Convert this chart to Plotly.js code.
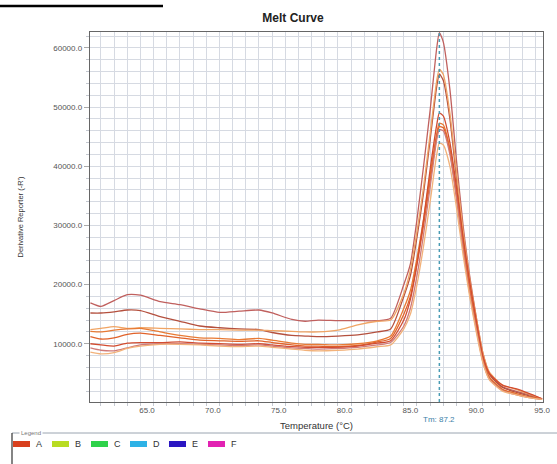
<!DOCTYPE html>
<html>
<head>
<meta charset="utf-8">
<script src="https://cdn.plot.ly/plotly-3.0.1.min.js"></script>
<style>html,body{margin:0;padding:0;background:#fff;}#chart{width:557px;height:464px;}</style>
</head>
<body>
<div id="chart"></div>
<script>
// ---- data ----
const temps = [60.7, 61.5, 62.5, 63.5, 64.5, 66, 67.5, 69, 70.5, 72, 73.5, 74.5, 76, 77, 78, 79.5, 81, 82.5, 83.5, 84.5,
  85.0, 85.5, 86.0, 86.5, 87.0, 87.2, 87.5, 88.0, 88.5, 89.0, 89.5, 90.0, 90.5, 91.0, 92.0, 93.0, 94.0, 95.0];

const well1 = [16900, 16300, 17300, 18300, 18200, 17100, 16600, 15900, 15300, 15500, 15700, 15200, 14100, 13800, 14000, 13900, 13900, 13900, 14300, 20000,
  23500, 31000, 40000, 49500, 60000, 62600, 61000, 53000, 41000, 30000, 21500, 14500, 8500, 5000, 2700, 2000, 1400, 700];
const well2 = [15200, 15200, 15400, 15700, 15600, 14600, 13800, 13000, 12700, 12500, 12400, 11900, 11400, 11300, 11200, 11300, 11500, 12000, 12500, 18000,
  21500, 28000, 35500, 44500, 53500, 55600, 54500, 48000, 38000, 28000, 20500, 14000, 8000, 4800, 2600, 1800, 1200, 600];
const well3 = [12400, 12600, 12900, 12600, 12700, 12600, 12500, 12400, 12400, 12300, 12300, 12200, 12100, 12000, 12000, 12300, 13200, 13800, 14000, 18500,
  22500, 29000, 36500, 45500, 54500, 56400, 55500, 49000, 39000, 29000, 21000, 14500, 8500, 5200, 3000, 2300, 1500, 700];
const well4 = [12100, 12000, 12300, 12500, 12600, 12000, 11400, 11000, 10900, 10700, 10900, 10600, 10100, 9900, 9900, 9800, 10000, 10500, 11300, 16000,
  19000, 24500, 31000, 38500, 45500, 47300, 47000, 43000, 35500, 27000, 19500, 13500, 7500, 4400, 2300, 1600, 1000, 600];
const well5 = [11200, 10800, 11000, 11600, 11800, 11400, 11000, 10600, 10500, 10400, 10500, 10200, 9800, 9600, 9600, 9500, 9700, 10300, 10900, 15000,
  18000, 23500, 30000, 37500, 45000, 46700, 46500, 42500, 35000, 26500, 19000, 13000, 7200, 4200, 2200, 1500, 1000, 600];
const well6 = [10000, 9800, 9600, 10100, 10200, 10200, 10300, 10100, 10000, 9900, 10000, 9800, 9500, 9400, 9400, 9400, 9600, 10100, 10500, 14000,
  17500, 23500, 31000, 39500, 47000, 49000, 48500, 44000, 36500, 28000, 20500, 14000, 8000, 5000, 3000, 2400, 1600, 700];
const well7 = [9300, 8900, 8800, 9300, 9800, 10000, 10000, 9900, 9800, 9700, 9800, 9600, 9300, 9200, 9100, 9200, 9400, 9800, 10200, 13000,
  16000, 21500, 28500, 36500, 44500, 46200, 46000, 42000, 34500, 26000, 18500, 12500, 7000, 4000, 2100, 1400, 900, 600];
const well8 = [8600, 8300, 8500, 9200, 9600, 9900, 9900, 9800, 9600, 9500, 9600, 9400, 9100, 8900, 8800, 8900, 9100, 9500, 9800, 12500,
  15000, 20000, 26500, 34000, 42000, 43900, 43600, 40000, 33000, 25000, 18000, 12000, 6800, 3900, 2000, 1400, 900, 600];

const wells = [well1, well2, well3, well4, well5, well6, well7, well8];
const wellColors = ['#c0605e', '#b4503e', '#f0a464', '#e87a34', '#e0622a', '#d24c30', '#d07a78', '#f2b27a'];

const tmValue = 87.2;
const legendLabels = ['A', 'B', 'C', 'D', 'E', 'F'];
const legendColors = ['#d8401e', '#b8dc22', '#2ed24a', '#2eb2e6', '#2a16c2', '#e222b2'];

// ---- layout helpers ----
const W = 557, H = 464, L = 90, R = 14, T = 32, B = 62;
const pw = W - L - R, ph = H - T - B;
const px = x => (x - L) / pw;
const py = y => (H - B - y) / ph;

const FONT = 'Liberation Sans, Arial, sans-serif';
const GRID = '#d6dae2';

const traces = wells.map((w, i) => ({
  type: 'scatter', mode: 'lines', x: temps, y: w,
  line: {color: wellColors[i], width: 1.3, shape: 'spline', smoothing: 0.6},
  showlegend: false, hoverinfo: 'skip'
}));

const shapes = [
  // Tm marker line
  {type: 'line', xref: 'x', yref: 'paper', x0: tmValue, x1: tmValue, y0: 0, y1: 1,
   line: {color: '#4a9cb4', width: 1.5, dash: 'dot'}},
  // top-left rule from the page
  {type: 'line', xref: 'paper', yref: 'paper', x0: px(0), x1: px(163), y0: py(6), y1: py(6),
   line: {color: '#000', width: 2.5}},
  // legend frame
  {type: 'line', xref: 'paper', yref: 'paper', x0: px(12), x1: px(557), y0: py(433), y1: py(433),
   line: {color: '#9aa4b0', width: 1}},
  {type: 'line', xref: 'paper', yref: 'paper', x0: px(12), x1: px(12), y0: py(433), y1: py(464),
   line: {color: '#333', width: 1.2}}
];

const annotations = [
  {xref: 'x', yref: 'paper', x: tmValue, y: py(419), text: 'Tm: ' + tmValue.toFixed(1),
   showarrow: false, font: {family: FONT, size: 8, color: '#3a7fa8'}, xanchor: 'center', yanchor: 'middle'},
  {xref: 'paper', yref: 'paper', x: px(19), y: py(433), text: 'Legend', showarrow: false,
   bgcolor: '#fff', borderpad: 1, font: {family: FONT, size: 6, color: '#777'}, xanchor: 'left', yanchor: 'middle'}
];

legendLabels.forEach((lab, i) => {
  const x0 = 13 + i * 39;
  shapes.push({type: 'rect', xref: 'paper', yref: 'paper', x0: px(x0), x1: px(x0 + 17),
    y0: py(447), y1: py(441), fillcolor: legendColors[i], line: {width: 0}});
  annotations.push({xref: 'paper', yref: 'paper', x: px(x0 + 21), y: py(444), text: lab,
    showarrow: false, xanchor: 'left', yanchor: 'middle', font: {family: FONT, size: 9, color: '#333'}});
});

const layout = {
  width: W, height: H,
  margin: {l: L, r: R, t: T, b: B, pad: 0},
  paper_bgcolor: '#fff', plot_bgcolor: '#fff',
  title: {text: '<b>Melt Curve</b>', x: 293 / W, xref: 'container', xanchor: 'center',
          y: 1 - 18 / H, yref: 'container', yanchor: 'middle',
          font: {family: FONT, size: 12, color: '#222'}},
  xaxis: {
    range: [60.67, 95.07], tickvals: [65, 70, 75, 80, 85, 90, 95], tickformat: '.1f',
    showgrid: false, zeroline: false, showline: true, mirror: true, linecolor: '#666', linewidth: 1.2,
    ticks: '', tickfont: {family: FONT, size: 8, color: '#555'},
    minor: {tick0: 60.5, dtick: 1, showgrid: true, gridcolor: GRID, gridwidth: 1, ticks: 'outside', ticklen: 3, tickcolor: '#c4c8d0'},
    title: {text: 'Temperature (°C)', standoff: 8, font: {family: FONT, size: 9.5, color: '#333'}}
  },
  yaxis: {
    range: [150, 62700], dtick: 10000, tick0: 0, tickformat: '.1f',
    showgrid: true, gridcolor: GRID, zeroline: false, showline: true, mirror: true, linecolor: '#666', linewidth: 1.2,
    ticks: 'outside', ticklen: 5, tickcolor: '#aaa', tickfont: {family: FONT, size: 8, color: '#555'},
    minor: {dtick: 2000, showgrid: true, gridcolor: GRID, ticks: 'outside', ticklen: 3, tickcolor: '#c4c8d0'},
    title: {text: "Derivative Reporter (-R')", standoff: 28, font: {family: 'Liberation Sans Narrow, ' + FONT, size: 7.5, color: '#333'}}
  },
  shapes: shapes,
  annotations: annotations,
  showlegend: false
};

Plotly.newPlot('chart', traces, layout, {displayModeBar: false, staticPlot: true});
</script>
</body>
</html>
